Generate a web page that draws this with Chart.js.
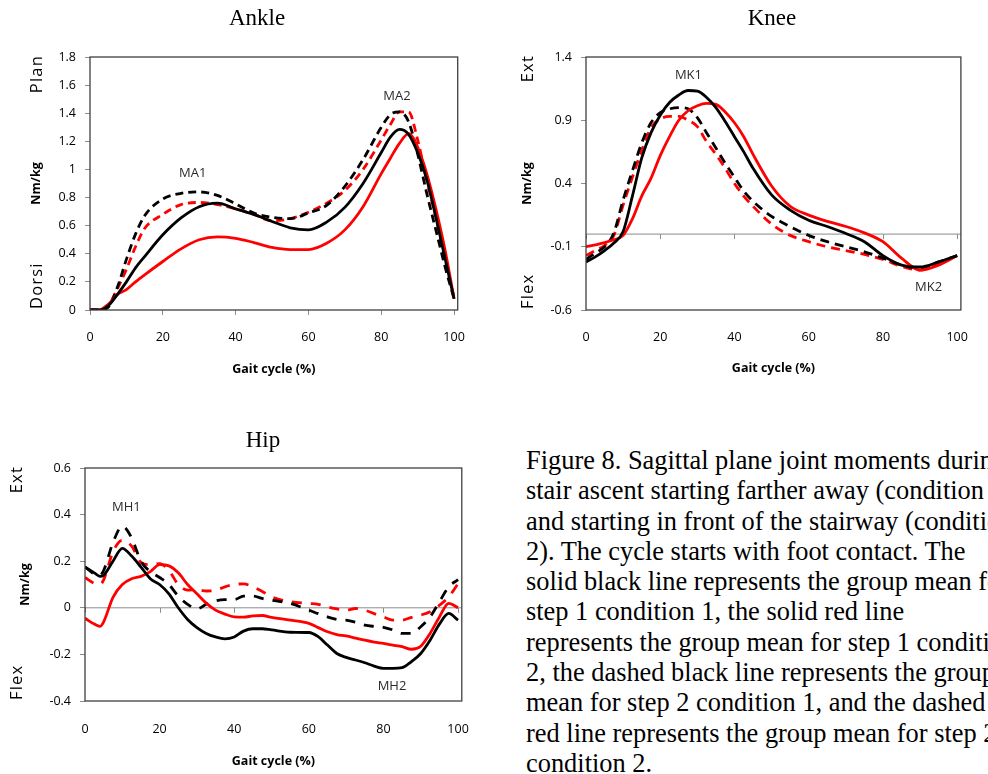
<!DOCTYPE html>
<html>
<head>
<meta charset="utf-8">
<script src="https://cdn.jsdelivr.net/npm/chart.js@4.4.1/dist/chart.umd.min.js"></script>
<style>
  html, body { margin: 0; padding: 0; background: #fff; }
  body { width: 988px; height: 774px; position: relative; overflow: hidden; }
  canvas { position: absolute; }
  #caption {
    position: absolute; left: 526px; top: 445px;
    font-family: "Liberation Serif", "Times New Roman", serif;
    font-size: 26.4px; line-height: 30.3px; white-space: nowrap; color: #000;
  }
</style>
</head>
<body>
<canvas id="ankle" width="480" height="390" style="left:0;top:0"></canvas>
<canvas id="knee" width="488" height="390" style="left:500px;top:0"></canvas>
<canvas id="hip" width="490" height="354" style="left:0;top:420px"></canvas>
<div id="caption">
Figure 8. Sagittal plane joint moments during<br>
stair ascent starting farther away (condition 1)<br>
and starting in front of the stairway (condition<br>
2). The cycle starts with foot contact. The<br>
solid black line represents the group mean for<br>
step 1 condition 1, the solid red line<br>
represents the group mean for step 1 condition<br>
2, the dashed black line represents the group<br>
mean for step 2 condition 1, and the dashed<br>
red line represents the group mean for step 2<br>
condition 2.
</div>
<script>
// gait cycle ticks shared by all three panels
const gaitTicks = [0, 20, 40, 60, 80, 100];

// ---- Ankle ----
const anklePct = [0, 2.5, 5, 7.5, 10, 12.5, 15, 20, 25, 30, 35, 40, 45, 50, 55, 60, 65, 70, 75, 80, 82.5, 85, 87.5, 90, 92.5, 95, 97.5, 100];
const ankleS1C1 = [0, 0, 0.03, 0.11, 0.2, 0.3, 0.38, 0.535, 0.655, 0.735, 0.76, 0.72, 0.68, 0.63, 0.585, 0.57, 0.625, 0.73, 0.9, 1.12, 1.23, 1.285, 1.25, 1.12, 0.93, 0.66, 0.37, 0.08];
const ankleS1C2 = [0, 0, 0.04, 0.11, 0.145, 0.2, 0.25, 0.345, 0.435, 0.5, 0.52, 0.51, 0.48, 0.445, 0.43, 0.43, 0.475, 0.57, 0.735, 0.97, 1.08, 1.185, 1.255, 1.16, 0.97, 0.72, 0.43, 0.08];
const ankleS2C1 = [0, 0, 0.02, 0.16, 0.36, 0.54, 0.67, 0.79, 0.83, 0.84, 0.815, 0.755, 0.69, 0.66, 0.65, 0.69, 0.745, 0.88, 1.07, 1.3, 1.39, 1.41, 1.34, 1.11, 0.83, 0.57, 0.31, 0.08];
const ankleS2C2 = [0, 0, 0.03, 0.15, 0.29, 0.45, 0.58, 0.68, 0.75, 0.765, 0.75, 0.72, 0.68, 0.635, 0.65, 0.695, 0.76, 0.85, 1.0, 1.21, 1.32, 1.41, 1.41, 1.21, 0.92, 0.66, 0.36, 0.09];
const ankleTicks = [0, 0.2, 0.4, 0.6, 0.8, 1, 1.2, 1.4, 1.6, 1.8];
const ankleNotes = [["MA1", 28.2, 0.975], ["MA2", 84.3, 1.52]];

// ---- Knee ----
const kneePct = [0, 2.5, 5, 7.5, 10, 12.5, 15, 17.5, 20, 22.5, 25, 27.5, 30, 32.5, 35, 37.5, 40, 42.5, 45, 50, 55, 60, 65, 70, 75, 80, 85, 90, 95, 100];
const kneeS1C1 = [-0.22, -0.18, -0.13, -0.07, 0.02, 0.3, 0.6, 0.8, 0.94, 1.04, 1.1, 1.135, 1.13, 1.08, 1.0, 0.89, 0.77, 0.65, 0.52, 0.31, 0.19, 0.11, 0.06, 0.005, -0.06, -0.17, -0.245, -0.26, -0.22, -0.17];
const kneeS1C2 = [-0.1, -0.085, -0.068, -0.045, -0.01, 0.12, 0.3, 0.44, 0.62, 0.77, 0.9, 0.975, 1.015, 1.033, 1.025, 0.965, 0.88, 0.77, 0.63, 0.38, 0.22, 0.15, 0.1, 0.06, 0.01, -0.06, -0.19, -0.285, -0.245, -0.17];
const kneeS2C1 = [-0.2, -0.15, -0.1, 0.01, 0.27, 0.5, 0.72, 0.88, 0.96, 0.99, 1.0, 0.99, 0.92, 0.8, 0.68, 0.56, 0.45, 0.34, 0.26, 0.14, 0.06, -0.01, -0.06, -0.1, -0.14, -0.19, -0.245, -0.27, -0.22, -0.17];
const kneeS2C2 = [-0.17, -0.13, -0.09, -0.01, 0.23, 0.45, 0.66, 0.84, 0.91, 0.93, 0.93, 0.9, 0.85, 0.73, 0.63, 0.52, 0.4, 0.3, 0.22, 0.08, -0.01, -0.06, -0.1, -0.13, -0.16, -0.2, -0.255, -0.285, -0.23, -0.17];
const kneeTicks = [-0.6, -0.1, 0.4, 0.9, 1.4];
const kneeNotes = [["MK1", 27.6, 1.258], ["MK2", 92.3, -0.418]];

// ---- Hip ----
const hipPct = [0, 2.5, 4, 5, 7.5, 10, 12.5, 15, 17.5, 20, 22.5, 25, 27.5, 30, 32.5, 35, 37.5, 40, 42.5, 45, 47.5, 50, 55, 60, 62.5, 65, 67.5, 70, 72.5, 75, 77.5, 80, 82.5, 85, 87.5, 90, 92.5, 95, 97.5, 100];
const hipS1C1 = [0.175, 0.15, 0.135, 0.14, 0.2, 0.255, 0.222, 0.175, 0.125, 0.1, 0.06, 0.0, -0.05, -0.085, -0.11, -0.125, -0.133, -0.125, -0.1, -0.09, -0.09, -0.095, -0.105, -0.106, -0.124, -0.16, -0.196, -0.213, -0.224, -0.236, -0.25, -0.26, -0.26, -0.257, -0.231, -0.196, -0.139, -0.07, -0.024, -0.053];
const hipS1C2 = [-0.045, -0.07, -0.08, -0.06, 0.045, 0.1, 0.125, 0.135, 0.155, 0.185, 0.18, 0.15, 0.1, 0.06, 0.02, -0.01, -0.027, -0.039, -0.04, -0.035, -0.033, -0.041, -0.053, -0.067, -0.085, -0.103, -0.115, -0.121, -0.13, -0.139, -0.147, -0.153, -0.16, -0.167, -0.178, -0.165, -0.11, -0.039, 0.019, 0.0];
const hipS2C1 = [0.175, 0.145, 0.14, 0.16, 0.28, 0.35, 0.3, 0.2, 0.155, 0.13, 0.1, 0.05, 0.015, -0.005, 0.015, 0.03, 0.035, 0.035, 0.05, 0.05, 0.04, 0.033, 0.019, -0.01, -0.025, -0.039, -0.05, -0.053, -0.062, -0.074, -0.08, -0.084, -0.095, -0.11, -0.11, -0.081, -0.039, 0.026, 0.09, 0.121];
const hipS2C2 = [0.13, 0.105, 0.1, 0.12, 0.24, 0.29, 0.265, 0.195, 0.185, 0.19, 0.16, 0.1, 0.076, 0.078, 0.072, 0.075, 0.09, 0.1, 0.103, 0.09, 0.07, 0.047, 0.026, 0.019, 0.015, 0.004, -0.005, -0.01, -0.003, -0.01, -0.025, -0.039, -0.053, -0.053, -0.041, -0.031, -0.017, 0.011, 0.047, 0.104];
const hipTicks = [-0.4, -0.2, 0, 0.2, 0.4, 0.6];
const hipNotes = [["MH1", 11.1, 0.433], ["MH2", 82.3, -0.336]];

const SANS = '"Open Sans", "Liberation Sans", sans-serif';

function toPoints(xs, ys) {
  return xs.map((x, i) => ({ x: x, y: ys[i] }));
}

function series(xs, ys, color, dash) {
  return {
    data: toPoints(xs, ys),
    borderColor: color,
    borderWidth: 2.8,
    borderDash: dash,
    pointRadius: 0,
    cubicInterpolationMode: "monotone",
    fill: false,
  };
}

// titles, side labels, plot box, zero line and peak labels
const decor = {
  id: "decor",
  beforeDatasetsDraw(chart, args, o) {
    if (!o.zeroLine) return;
    const { ctx, chartArea: a, scales } = chart;
    const py = scales.y.getPixelForValue(0);
    ctx.save();
    ctx.strokeStyle = "#8c8c8c";
    ctx.lineWidth = 1;
    ctx.beginPath();
    ctx.moveTo(a.left, py);
    ctx.lineTo(a.right, py);
    scales.x.ticks.forEach((t) => {
      const px = Math.round(scales.x.getPixelForValue(t.value)) + 0.5;
      ctx.moveTo(px, py);
      ctx.lineTo(px, py + 5);
    });
    ctx.stroke();
    ctx.restore();
  },
  afterDraw(chart, args, o) {
    const { ctx, chartArea: a, scales } = chart;
    ctx.save();
    ctx.strokeStyle = "#404040";
    ctx.lineWidth = 1.3;
    ctx.strokeRect(a.left, a.top, a.right - a.left, a.bottom - a.top);

    ctx.fillStyle = "#000";
    ctx.textBaseline = "middle";
    ctx.textAlign = "center";
    ctx.font = '23px "Liberation Serif", serif';
    ctx.fillText(o.title, o.titleX, o.titleY);

    ctx.font = "bold 12.5px " + SANS;
    ctx.fillText("Gait cycle (%)", (a.left + a.right) / 2, a.bottom + o.xTitleGap);

    // rotated labels
    const rot = (text, x, y, align, font, spacing) => {
      ctx.save();
      ctx.translate(x, y);
      ctx.rotate(-Math.PI / 2);
      ctx.font = font;
      ctx.letterSpacing = spacing;
      ctx.textAlign = align;
      ctx.fillText(text, 0, 0);
      ctx.restore();
    };
    const sideFont = "16.5px " + SANS;
    rot(o.upper, a.left - o.sideGap, a.top - 2, "right", sideFont, "1.2px");
    rot(o.lower, a.left - o.sideGap, a.bottom - 1, "left", sideFont, "1.2px");
    rot("Nm/kg", a.left - o.unitGap, (a.top + a.bottom) / 2, "center", "bold 12.5px " + SANS, "0px");

    ctx.fillStyle = "#2b2b2b";
    ctx.font = "13px " + SANS;
    o.notes.forEach((n) => {
      ctx.fillText(n[0], scales.x.getPixelForValue(n[1]), scales.y.getPixelForValue(n[2]));
    });
    ctx.restore();
  },
};

function makeChart(id, cfg) {
  const lowLabels = cfg.zeroLine;
  new Chart(document.getElementById(id), {
    type: "line",
    data: {
      datasets: [
        series(cfg.pct, cfg.s1c1, "#000000", []),
        series(cfg.pct, cfg.s1c2, "#ff0000", []),
        series(cfg.pct, cfg.s2c1, "#000000", cfg.dash),
        series(cfg.pct, cfg.s2c2, "#ff0000", cfg.dash),
      ],
    },
    options: {
      responsive: false,
      animation: false,
      devicePixelRatio: 1,
      layout: { padding: cfg.padding },
      plugins: {
        legend: { display: false },
        tooltip: { enabled: false },
        decor: cfg.decor,
      },
      scales: {
        x: {
          type: "linear",
          min: 0,
          max: 101,
          afterBuildTicks: (s) => { s.ticks = gaitTicks.map((v) => ({ value: v })); },
          afterFit: (s) => { s.height = 60; },
          grid: lowLabels
            ? { display: false, drawTicks: false, drawOnChartArea: false }
            : { drawOnChartArea: false, tickLength: 5, color: "#8c8c8c" },
          border: { display: false },
          ticks: {
            padding: cfg.xPad,
            maxRotation: 0,
            autoSkip: false,
            color: "#000",
            font: { family: SANS, size: 12.5 },
            callback: (v) => String(v),
          },
        },
        y: {
          min: cfg.yTicks[0],
          max: cfg.yTicks[cfg.yTicks.length - 1],
          afterBuildTicks: (s) => { s.ticks = cfg.yTicks.map((v) => ({ value: v })); },
          afterFit: (s) => { s.width = cfg.yWidth; },
          grid: { drawOnChartArea: false, tickLength: 5, color: "#8c8c8c" },
          border: { display: false },
          ticks: {
            padding: 9,
            autoSkip: false,
            color: "#000",
            font: { family: SANS, size: 12.5 },
            callback: (v) => String(v),
          },
        },
      },
    },
    plugins: [decor],
  });
}

makeChart("ankle", {
  pct: anklePct, s1c1: ankleS1C1, s1c2: ankleS1C2, s2c1: ankleS2C1, s2c2: ankleS2C2,
  yTicks: ankleTicks, yWidth: 90, xPad: 15, zeroLine: false, dash: [8, 5],
  padding: { left: 0, top: 57, right: 22, bottom: 20 },
  decor: { title: "Ankle", titleX: 257, titleY: 19, upper: "Plan", lower: "Dorsi",
           sideGap: 53, unitGap: 54, xTitleGap: 59, zeroLine: false, notes: ankleNotes },
});

makeChart("knee", {
  pct: kneePct, s1c1: kneeS1C1, s1c2: kneeS1C2, s2c1: kneeS2C1, s2c2: kneeS2C2,
  yTicks: kneeTicks, yWidth: 86, xPad: 20, zeroLine: true, dash: [9, 6],
  padding: { left: 0, top: 57, right: 10, bottom: 20 },
  decor: { title: "Knee", titleX: 272, titleY: 19, upper: "Ext", lower: "Flex",
           sideGap: 58, unitGap: 59, xTitleGap: 58, zeroLine: true, notes: kneeNotes },
});

makeChart("hip", {
  pct: hipPct, s1c1: hipS1C1, s1c2: hipS1C2, s2c1: hipS2C1, s2c2: hipS2C2,
  yTicks: hipTicks, yWidth: 85, xPad: 21, zeroLine: true, dash: [10, 9],
  padding: { left: 0, top: 48, right: 22, bottom: 13 },
  decor: { title: "Hip", titleX: 263, titleY: 21, upper: "Ext", lower: "Flex",
           sideGap: 68, unitGap: 60, xTitleGap: 60, zeroLine: true, notes: hipNotes },
});
</script>
</body>
</html>
